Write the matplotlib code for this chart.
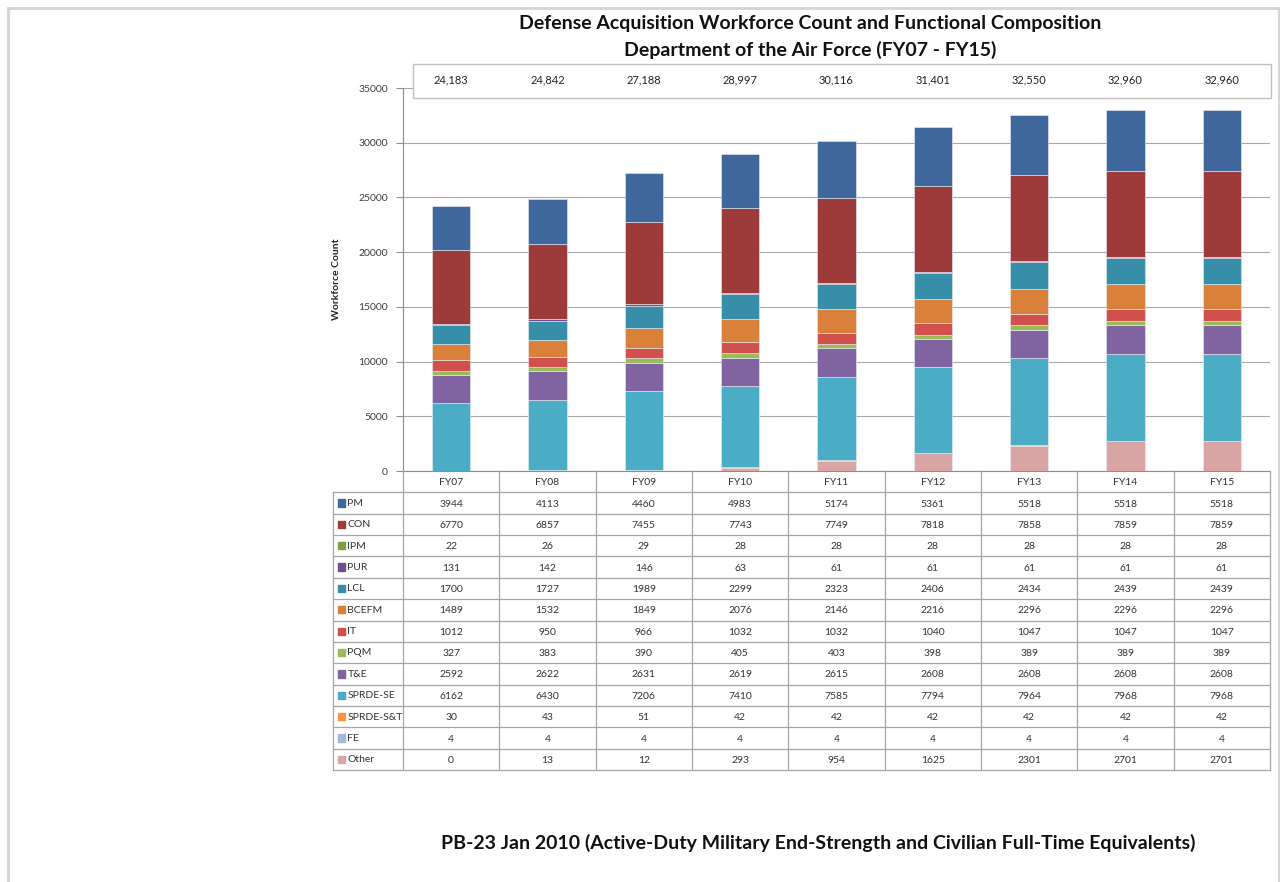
import matplotlib
matplotlib.use("Agg")
import matplotlib.pyplot as plt
import matplotlib.transforms as mtransforms
import numpy as np
from matplotlib.patches import Rectangle
from matplotlib.lines import Line2D

plt.rcParams['font.family'] = ['Lato', 'DejaVu Sans']

years = ["FY07", "FY08", "FY09", "FY10", "FY11", "FY12", "FY13", "FY14", "FY15"]

# Table row order (top to bottom)
categories = ["PM", "CON", "IPM", "PUR", "LCL", "BCEFM", "IT", "PQM", "T&E",
              "SPRDE-SE", "SPRDE-S&T", "FE", "Other"]

pm        = [3944, 4113, 4460, 4983, 5174, 5361, 5518, 5518, 5518]
con       = [6770, 6857, 7455, 7743, 7749, 7818, 7858, 7859, 7859]
ipm       = [22, 26, 29, 28, 28, 28, 28, 28, 28]
pur       = [131, 142, 146, 63, 61, 61, 61, 61, 61]
lcl       = [1700, 1727, 1989, 2299, 2323, 2406, 2434, 2439, 2439]
bcefm     = [1489, 1532, 1849, 2076, 2146, 2216, 2296, 2296, 2296]
it        = [1012, 950, 966, 1032, 1032, 1040, 1047, 1047, 1047]
pqm       = [327, 383, 390, 405, 403, 398, 389, 389, 389]
te        = [2592, 2622, 2631, 2619, 2615, 2608, 2608, 2608, 2608]
sprde_se  = [6162, 6430, 7206, 7410, 7585, 7794, 7964, 7968, 7968]
sprde_st  = [30, 43, 51, 42, 42, 42, 42, 42, 42]
fe        = [4, 4, 4, 4, 4, 4, 4, 4, 4]
other     = [0, 13, 12, 293, 954, 1625, 2301, 2701, 2701]

series = [pm, con, ipm, pur, lcl, bcefm, it, pqm, te, sprde_se, sprde_st, fe, other]

colors = ["#3F679B", "#9C3B39", "#7E9E3F", "#6D4F8E", "#368EA8", "#D9803A",
          "#D1504C", "#9BBB59", "#8064A2", "#4BACC6", "#F79646", "#A7B9DA",
          "#D9A4A4"]

W, H = 1280, 882
fig = plt.figure(figsize=(W / 100, H / 100), dpi=100)
fig.patch.set_facecolor("white")


def fx(px):
    return px / W


def fy(py):
    return 1 - py / H


# page frame
fig.add_artist(Rectangle((fx(8), fy(895)), fx(1279) - fx(8), fy(8) - fy(895),
                         transform=fig.transFigure, fill=False,
                         edgecolor="#d4d4d4", lw=2))

# chart area
ax_l, ax_r, ax_t, ax_b = 403, 1270, 88, 471
ax = fig.add_axes([fx(ax_l), fy(ax_b), fx(ax_r) - fx(ax_l), fy(ax_t) - fy(ax_b)])
x = np.arange(len(years))
ax.set_xlim(-0.5, len(years) - 0.5)
ax.set_ylim(0, 35000)

# stack from bottom (last table row) upwards
bottom = np.zeros(len(years))
for vals, col in zip(series[::-1], colors[::-1]):
    v = np.array(vals, dtype=float)
    ax.bar(x, v, width=0.4, bottom=bottom, color=col, edgecolor="#e8eef5",
           linewidth=0.4, zorder=3)
    bottom += v

ax.set_yticks(np.arange(0, 35001, 5000))
ax.tick_params(axis="y", direction="out", length=5, color="#8c8c8c",
               labelsize=7.5, labelcolor="#404040", pad=6)
ax.set_xticks([])
ax.grid(axis="y", color="#a8a8a8", lw=0.8, zorder=0)
for s in ["top", "right"]:
    ax.spines[s].set_visible(False)
ax.spines["left"].set_color("#8c8c8c")
ax.spines["bottom"].set_color("#8c8c8c")
ax.set_ylabel("Workforce Count", fontsize=7.5, fontweight="bold", color="#222222",
              labelpad=12)

# totals box above bars
totals = [sum(col) for col in zip(*series)]
fig.add_artist(Rectangle((fx(413), fy(98)), fx(1271) - fx(413), fy(64) - fy(98),
                         transform=fig.transFigure, fill=True, facecolor="white",
                         edgecolor="#c0c0c0", lw=1))
trans = mtransforms.blended_transform_factory(ax.transData, fig.transFigure)
for xi, t in zip(x, totals):
    fig.text(xi, fy(80), f"{t:,}", transform=trans, ha="center",
             va="center", fontsize=8, color="#222222")

# data table
tab_l, tab_t, tab_b = 333, 471, 770
unit = (ax_r - ax_l) / len(years)
x_left = -0.5 - (ax_l - tab_l) / unit
tax = fig.add_axes([fx(tab_l), fy(tab_b), fx(ax_r) - fx(tab_l), fy(tab_t) - fy(tab_b)])
tax.set_xlim(x_left, len(years) - 0.5)
nrows = len(categories) + 1
tax.set_ylim(nrows, 0)
tax.axis("off")
lc = "#a6a6a6"
for i in range(len(years) + 1):
    tax.add_line(Line2D([i - 0.5, i - 0.5], [0, nrows], color=lc, lw=0.9,
                        clip_on=False))
for r in range(1, nrows + 1):
    tax.add_line(Line2D([x_left, len(years) - 0.5], [r, r], color=lc, lw=0.9,
                        clip_on=False))
tax.add_line(Line2D([x_left, x_left], [1, nrows], color=lc, lw=0.9, clip_on=False))
for i, yr in enumerate(years):
    tax.text(i, 0.55, yr, ha="center", va="center", fontsize=7.5, color="#333333")
for r, (cat, vals, col) in enumerate(zip(categories, series, colors), start=1):
    tax.add_patch(Rectangle((x_left + 0.05, r + 0.33), 0.075, 0.34, color=col))
    tax.text(x_left + 0.15, r + 0.52, cat, ha="left", va="center", fontsize=7.5,
             color="#333333")
    for i, v in enumerate(vals):
        tax.text(i, r + 0.55, str(v), ha="center", va="center", fontsize=7.5,
                 color="#333333")

# titles
fig.text(fx(810), fy(24), "Defense Acquisition Workforce Count and Functional Composition",
         ha="center", va="center", fontsize=14, fontweight="bold", color="#111111")
fig.text(fx(810), fy(50), "Department of the Air Force (FY07 - FY15)",
         ha="center", va="center", fontsize=14, fontweight="bold", color="#111111")
fig.text(fx(818), fy(843),
         "PB-23 Jan 2010 (Active-Duty Military End-Strength and Civilian Full-Time Equivalents)",
         ha="center", va="center", fontsize=14, fontweight="bold", color="#111111")

fig.savefig("out.png", dpi=100, facecolor="white")
